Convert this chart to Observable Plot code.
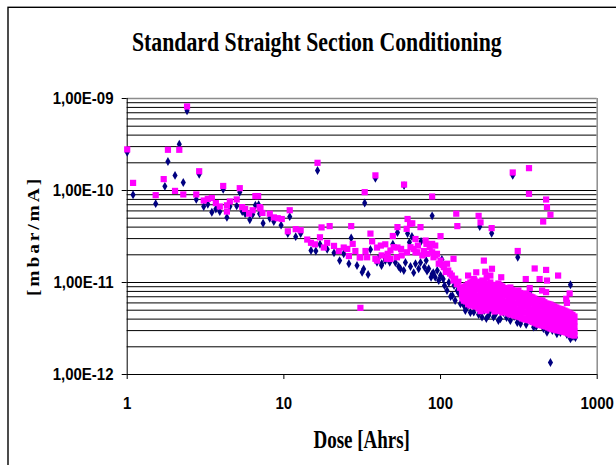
<!DOCTYPE html>
<html><head><meta charset="utf-8">
<script src="https://cdn.jsdelivr.net/npm/d3@7"></script>
<script src="https://cdn.jsdelivr.net/npm/@observablehq/plot@0.6"></script>
<style>html,body{margin:0;padding:0;background:#fff;}</style>
</head><body><div id="chart"></div>
<script>
const titleText = "Standard Straight Section Conditioning";
const xLabel = "Dose [Ahrs]";
const yLabel = "[mbar/mA]";
const xTicks = [1, 10, 100, 1000];
const xTickLabels = ["1", "10", "100", "1000"];
const yTicks = [1e-12, 1e-11, 1e-10, 1e-9];
const yTickLabels = ["1,00E-12", "1,00E-11", "1,00E-10", "1,00E-09"];
const gridMultipliers = [1, 2, 3, 4, 5, 6, 7, 8, 9];

// navy diamonds: [dose, pressure]
const navyPoints = [
[1.0,2.6e-10],[1.09,9.0e-11],[1.52,7.2e-11],[1.74,1.11e-10],[1.82,2.07e-10],[2.02,1.46e-10],[2.15,3.19e-10],[2.28,1.22e-10],[2.41,7.35e-10],[2.76,8.0e-11],[2.88,1.5e-10],[3.08,6.7e-11],[3.27,7.1e-11],[3.47,5.8e-11],[3.68,6.3e-11],[3.9,5.9e-11],[4.1,1.03e-10],[4.33,5.1e-11],[4.52,6.7e-11],[5.0,6.8e-11],[5.23,9.6e-11],[5.42,5.9e-11],[5.66,5.6e-11],[6.06,4.8e-11],[6.32,5.5e-11],[6.58,6.9e-11],[6.9,7.0e-11],[7.0,5.6e-11],[7.37,4.4e-11],[8.13,5.0e-11],[8.63,4.6e-11],[9.6,4.2e-11],[10.9,5.2e-11],[10.6,3.4e-11],[11.9,3.15e-11],[12.8,3.4e-11],[14.9,2.23e-11],[16.0,2.2e-11],[16.4,1.65e-10],[17.0,2.6e-11],[18.9,2.3e-11],[20.9,2.1e-11],[22.7,1.73e-11],[24.1,2.05e-11],[26.0,1.6e-11],[26.9,3.05e-11],[29.3,1.53e-11],
[31.6,1.29e-11],[32.3,1.4e-11],[32.8,7.3e-11],[34.5,1.22e-11],[35.7,2.28e-11],[38.4,1.36e-10],[39.3,1.66e-11],[40,1.82e-11],[42,1.53e-11],[42.1,1.6e-11],[44.5,1.82e-11],[44.4,1.73e-11],[47.4,1.66e-11],[49.6,2.6e-11],[51.5,1.65e-11],[53.1,3.5e-11],[54,1.49e-11],[55.5,1.41e-11],[58.3,1.35e-11],[58.5,1.13e-10],[59.7,1.65e-11],[61.6,3.4e-11],[63.3,2.74e-11],[64.3,1.49e-11],[65.7,3.16e-11],[67.4,1.28e-11],[69.2,1.6e-11],[72.5,1.41e-11],[74.5,1.65e-11],[75.1,2.8e-11],[78.9,1.47e-11],[81,1.73e-11],[82,1.33e-11],[84,1.41e-11],[87,1.14e-11],[88.4,1.24e-11],[88.4,5.3e-11],[89.9,1.28e-11],[92.5,1.14e-11],[95.3,1.35e-11],[97.4,1.05e-11],[100,1.19e-11],
[102,1.78e-11],[104,1.09e-11],[106,9.27e-12],[110,8.18e-12],[113,1.0e-11],[116,7.05e-12],[119,7.22e-12],[122,9.27e-12],[124,6.37e-12],[128,8.18e-12],[130,7.78e-12],[134,5.87e-12],[137,6.7e-12],[141,5.62e-12],[144,4.96e-12],[148,5.39e-12],[150,6.37e-12],[155,4.72e-12],[163,4.76e-12],[170,5.48e-12],[175,4.49e-12],[178,4.06e-11],[184,4.2e-12],[190,4.96e-12],[196,4.06e-12],[203,4.38e-12],[208,4.96e-12],[212,3.43e-11],[218,4.2e-12],[224,4.49e-12],[234,3.86e-12],[241,4.03e-12],[252,4.72e-12],[264,4.17e-12],[279,3.86e-12],[289,1.46e-10],[295,4.27e-12],[309,3.67e-12],[311,1.88e-11],[324,3.56e-12],[333,4.06e-12],[352,3.49e-12],[371,7.85e-12],[375,3.86e-12],[393,3.27e-12],[408,3.32e-12],[434,3.67e-12],[454,3.16e-12],[478,2.88e-12],[487,3.41e-12],[503,1.35e-12],[517,3.01e-12],[541,3.24e-12],[553,2.77e-12],[582,2.86e-12],[610,3.08e-12],[641,2.72e-12],[660,2.93e-12],[675,2.44e-12],[675,9.44e-12],[700,2.59e-12],[726,2.52e-12]
];

// magenta squares: [dose, pressure]
const magentaPoints = [
[1.0,2.8e-10],[1.09,1.21e-10],[1.52,8.9e-11],[1.71,1.33e-10],[1.82,2.77e-10],[2.02,9.9e-11],[2.15,2.77e-10],[2.28,9.06e-11],[2.41,8.19e-10],[2.76,9.06e-11],[2.88,1.62e-10],[3.08,7.78e-11],[3.27,8.1e-11],[3.47,8.3e-11],[3.68,7.3e-11],[3.9,6.7e-11],[4.1,1.12e-10],[4.33,6.9e-11],[4.33,5.9e-11],[4.52,7.6e-11],[5.0,8.0e-11],[5.23,1.06e-10],[5.42,6.6e-11],[5.66,6.3e-11],[6.0,5.6e-11],[6.32,6.1e-11],[6.58,8.7e-11],[6.85,8.7e-11],[7.0,6.6e-11],[7.09,6.4e-11],[7.3,5.7e-11],[8.13,5.6e-11],[8.63,5.1e-11],[9.14,5.0e-11],[9.7,4.9e-11],[10.9,6.1e-11],[10.6,3.6e-11],[11.9,3.8e-11],[12.8,3.7e-11],[14.1,2.93e-11],[14.9,2.7e-11],[15.8,2.6e-11],[16.4,2.0e-10],[17.0,3.1e-11],[17.4,3.97e-11],[18.0,2.4e-11],[18.9,2.7e-11],[19.6,4.1e-11],[20.9,2.5e-11],[22.4,2.2e-11],[24.1,2.4e-11],[25.4,2.32e-11],[26.0,1.94e-11],[26.9,4.1e-11],[27.5,2.63e-11],[28.6,2.2e-11],[30.5,1.88e-11],[30.8,5.3e-12],[30.8,1.88e-11],[32.8,9.6e-11],[33.2,2.2e-11],[34,1.88e-11],[35.7,3.4e-11],[36.6,2.8e-11],[38.4,1.46e-10],[38.4,1.81e-11],[39.3,2.4e-11],[39.3,1.73e-11],[41.6,2.52e-11],[42.1,1.97e-11],[44.4,2.6e-11],[45.3,1.81e-11],[46,2.05e-11],[47.9,1.8e-11],[47.9,2.23e-11],[49.6,3.2e-11],[50.2,2.42e-11],[52.7,1.88e-11],[53.1,4.0e-11],[53.1,2.4e-11],[56,2.32e-11],[56.5,1.97e-11],[58.5,1.16e-10],[60.8,3.83e-11],[61.1,2.13e-11],[61.6,4.9e-11],[63.9,4.35e-11],[64.3,2.42e-11],[66,4.4e-11],[67.3,2.32e-11],[69.2,2.13e-11],[69.2,2.97e-11],[71,2.13e-11],[71.7,2.52e-11],[74.5,4.0e-11],[76.5,1.97e-11],[78.3,2.2e-11],[80.3,2.86e-11],[81.3,2.63e-11],[82,2.05e-11],[85.3,2.42e-11],[88.4,8.6e-11],[88.4,2.63e-11],[88.4,2.13e-11],[90.2,1.88e-11],[92.5,2.52e-11],[92.5,1.97e-11],[94.9,2.05e-11],[97.4,1.6e-11],[100,3.19e-11],[100,1.73e-11],
[103,1.55e-11],[105,1.47e-11],[108,1.3e-11],[110,1.6e-11],[112,1.35e-11],[115,1.25e-11],[118,1.19e-11],[121,1.81e-11],[121,1.05e-11],[124,1.1e-11],[126,5.6e-11],[127,9.6e-12],[128,4.1e-11],[130,1.02e-11],[133,8.76e-12],[137,7.54e-12],[141,6.37e-12],[148,7.22e-12],[150,1.19e-11],[155,8.55e-12],[163,7.54e-12],[163,1.09e-11],[169,1.29e-11],[171,6.65e-12],[175,5.3e-11],[180,4.5e-11],[180,6.11e-12],[180,4.88e-12],[189,8.18e-12],[189,1.73e-11],[193,1.31e-11],[197,8.89e-12],[197,1.14e-11],[208,7.22e-12],[208,1.19e-11],[212,3.9e-11],[213,1.41e-11],[218,6.37e-12],[228,5.39e-12],[244,1.14e-11],[289,1.57e-10],[311,2.2e-11],[350,1.09e-11],[367,1.75e-10],[367,9.2e-11],[371,8.7e-12],[399,1.42e-11],[429,1.09e-11],[445,8.18e-12],[452,4.6e-11],[472,7.98e-11],[478,6.6e-11],[503,5.45e-11],[472,1.37e-11],[478,1.05e-11],[472,7.85e-12],[563,1.19e-11],[634,6.65e-12],[641,6.0e-12],[667,7.6e-12]
];

// dense magenta band after 130 Ahrs: [dose, [pressures]]
const magentaBand = [
[138,[8.61e-12,7.59e-12,6.70e-12]],
[142,[9.0e-12,8.1e-12,7.2e-12,6.4e-12]],
[146,[9.27e-12,7.98e-12,7.04e-12,6.21e-12]],
[150,[9.6e-12,8.3e-12,7.3e-12,6.4e-12,5.8e-12]],
[155,[1.0e-11,8.61e-12,7.41e-12,6.37e-12,5.62e-12]],
[160,[1.02e-11,8.8e-12,7.2e-12,6.0e-12]],
[165,[1.05e-11,9.05e-12,7.78e-12,6.53e-12,5.48e-12]],
[170,[1.0e-11,8.5e-12,7.0e-12,5.9e-12]],
[175,[9.75e-12,8.39e-12,7.22e-12,6.06e-12,5.22e-12]],
[180,[1.02e-11,8.9e-12,7.7e-12,6.6e-12,5.6e-12]],
[185,[1.05e-11,8.82e-12,7.59e-12,6.53e-12,5.62e-12]],
[190,[9.9e-12,8.4e-12,7.2e-12,6.1e-12,5.3e-12]],
[196,[9.51e-12,7.98e-12,6.70e-12,5.77e-12,4.96e-12]],
[202,[9.7e-12,8.3e-12,7.0e-12,6.1e-12,5.3e-12]],
[208,[1.0e-11,8.61e-12,7.41e-12,6.53e-12,5.77e-12]],
[214,[9.4e-12,8.2e-12,7.0e-12,6.0e-12,5.2e-12]],
[221,[9.05e-12,7.78e-12,6.70e-12,5.62e-12,4.84e-12]],
[227,[9.4e-12,8.0e-12,6.9e-12,5.8e-12,5.0e-12]],
[234,[9.75e-12,8.39e-12,7.22e-12,6.06e-12,5.22e-12]],
[241,[9.3e-12,7.9e-12,6.8e-12,5.7e-12,4.9e-12]],
[248,[9.05e-12,7.59e-12,6.37e-12,5.48e-12,4.72e-12]],
[255,[8.7e-12,7.4e-12,6.2e-12,5.3e-12]],
[263,[8.39e-12,7.22e-12,6.06e-12,5.22e-12,4.84e-12]],
[271,[8.6e-12,7.4e-12,6.4e-12,5.3e-12,4.6e-12]],
[279,[8.82e-12,7.59e-12,6.70e-12,5.48e-12,4.49e-12]],
[287,[8.3e-12,7.2e-12,6.2e-12,5.2e-12,4.5e-12]],
[296,[7.98e-12,6.87e-12,5.77e-12,4.96e-12,4.38e-12]],
[305,[8.0e-12,6.9e-12,5.9e-12,5.0e-12,4.3e-12]],
[314,[8.18e-12,7.04e-12,6.06e-12,5.09e-12,4.27e-12]],
[323,[7.7e-12,6.7e-12,5.7e-12,4.9e-12,4.2e-12]],
[333,[7.41e-12,6.37e-12,5.48e-12,4.72e-12,4.06e-12]],
[343,[7.5e-12,6.4e-12,5.5e-12,4.7e-12,4.0e-12]],
[353,[7.59e-12,6.53e-12,5.62e-12,4.72e-12,3.96e-12]],
[364,[7.3e-12,6.3e-12,5.3e-12,4.5e-12,3.9e-12]],
[375,[7.04e-12,6.06e-12,5.09e-12,4.38e-12,3.86e-12]],
[386,[6.9e-12,5.9e-12,5.0e-12,4.3e-12,3.75e-12]],
[397,[6.70e-12,5.77e-12,4.96e-12,4.27e-12,3.67e-12]],
[409,[6.5e-12,5.6e-12,4.8e-12,4.15e-12,3.58e-12]],
[421,[6.37e-12,5.48e-12,4.72e-12,4.06e-12,3.49e-12]],
[434,[6.4e-12,5.5e-12,4.65e-12,4.0e-12,3.45e-12]],
[447,[6.37e-12,5.48e-12,4.60e-12,3.96e-12,3.41e-12]],
[460,[6.1e-12,5.3e-12,4.5e-12,3.85e-12,3.36e-12]],
[474,[5.91e-12,5.09e-12,4.38e-12,3.77e-12,3.32e-12]],
[488,[5.85e-12,5.0e-12,4.3e-12,3.7e-12,3.24e-12]],
[503,[5.77e-12,4.96e-12,4.27e-12,3.67e-12,3.16e-12]],
[518,[5.6e-12,4.85e-12,4.15e-12,3.58e-12,3.12e-12]],
[533,[5.48e-12,4.72e-12,4.06e-12,3.49e-12,3.08e-12]],
[549,[5.35e-12,4.6e-12,3.95e-12,3.45e-12,3.04e-12]],
[565,[5.22e-12,4.49e-12,3.86e-12,3.41e-12,3.01e-12]],
[582,[5.15e-12,4.45e-12,3.8e-12,3.36e-12,2.97e-12]],
[600,[5.09e-12,4.38e-12,3.77e-12,3.32e-12,2.93e-12]],
[618,[4.95e-12,4.27e-12,3.72e-12,3.28e-12,2.9e-12]],
[636,[4.84e-12,4.17e-12,3.67e-12,3.24e-12,2.86e-12]],
[655,[4.7e-12,4.1e-12,3.58e-12,3.16e-12,2.79e-12]],
[675,[4.60e-12,4.06e-12,3.49e-12,3.08e-12,2.72e-12]],
[695,[4.45e-12,3.9e-12,3.4e-12,3.0e-12,2.68e-12]],
[716,[4.27e-12,3.77e-12,3.32e-12,2.93e-12,2.65e-12]]
];

const magentaAll = magentaPoints.concat(magentaBand.flatMap(([x, ys]) => ys.map(y => [x, y])));
const gridValues = yTicks.slice(0, 3).flatMap(d => gridMultipliers.map(m => m * d));
const xLab = new Map(xTicks.map((t, i) => [t, xTickLabels[i]]));
const yLab = new Map(yTicks.map((t, i) => [t, yTickLabels[i]]));

const chart = Plot.plot({
  width: 616, height: 465,
  marginLeft: 126.7, marginRight: 19.3, marginTop: 98, marginBottom: 91,
  style: {background: "#fff", fontFamily: "'Liberation Sans', Arial, sans-serif", fontSize: "15px", fontWeight: "bold", color: "#000", overflow: "visible"},
  x: {type: "log", domain: [1, 1000]},
  y: {type: "log", domain: [1e-12, 1e-9]},
  marks: [
    Plot.ruleY(gridValues, {stroke: "#000", strokeWidth: 1}),
    Plot.ruleY([1e-9], {stroke: "#8c8c8c", strokeWidth: 1.5}),
    Plot.ruleX([1000], {stroke: "#8c8c8c", strokeWidth: 1.5}),
    Plot.ruleX([1], {stroke: "#000", strokeWidth: 1}),
    Plot.ruleY([1e-12], {stroke: "#000", strokeWidth: 1}),
    Plot.axisX(xTicks, {tickSize: 5, tickPadding: 18.5, tickFormat: d => xLab.get(d), label: null, fontSize: 15}),
    Plot.axisY(yTicks, {tickSize: 5, tickPadding: 8.7, tickFormat: d => yLab.get(d), label: null, fontSize: 15}),
    Plot.dot(navyPoints, {x: d => d[0], y: d => d[1], symbol: "diamond", r: 2.7, fill: "#000080"}),
    Plot.dot(magentaAll, {x: d => d[0], y: d => d[1], symbol: "square", r: 3.5, fill: "#ff00ff"})
  ]
});
document.getElementById("chart").appendChild(chart);

const svg = d3.select(chart);
// stretch tick labels vertically like the reference rendering
svg.selectAll('g[aria-label="x-axis tick label"] text, g[aria-label="y-axis tick label"] text').each(function() {
  const b = this.getBBox();
  const cy = b.y + b.height / 2;
  const t = this.getAttribute("transform") || "";
  this.setAttribute("transform", `${t} translate(0,${cy}) scale(1,1.15) translate(0,${-cy})`);
});

const serif = "'Liberation Serif', 'Times New Roman', Times, serif";
svg.append("text").text(titleText)
  .attr("transform", "translate(316.8,51) scale(1,1.28)")
  .attr("text-anchor", "middle").attr("font-family", serif).attr("font-weight", "bold").attr("font-size", 21.8).attr("fill", "#000");
svg.append("text").text(xLabel)
  .attr("transform", "translate(361.7,448.3) scale(1,1.3)")
  .attr("text-anchor", "middle").attr("font-family", serif).attr("font-weight", "bold").attr("font-size", 19).attr("fill", "#000");
svg.append("text").text(yLabel)
  .attr("transform", "translate(39,236) scale(1,1.15) rotate(-90)")
  .attr("text-anchor", "middle").attr("font-family", serif).attr("font-weight", "bold").attr("font-size", 17).attr("letter-spacing", 2.5).attr("fill", "#000");
svg.append("rect").attr("x", 8).attr("y", 7.3).attr("width", 700).attr("height", 600)
  .attr("fill", "none").attr("stroke", "#000").attr("stroke-width", 1.4);
</script>
</body></html>
